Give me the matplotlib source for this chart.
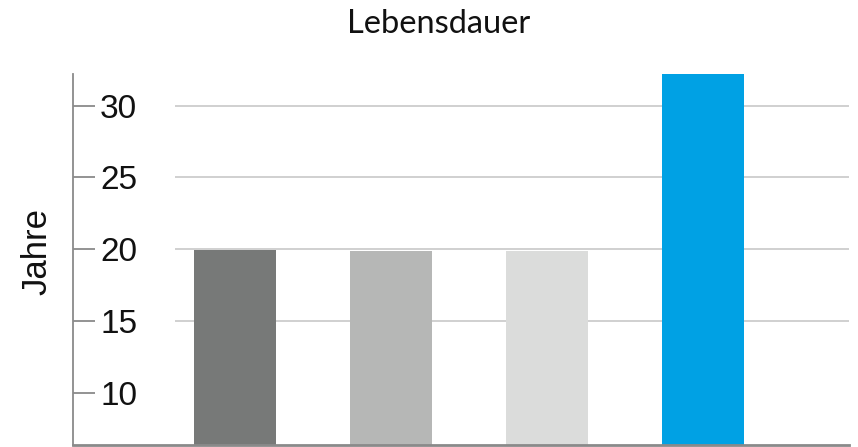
import matplotlib
matplotlib.use("Agg")
import matplotlib.pyplot as plt

# Lifetime values per product variant (years)
categories = ["A", "B", "C", "D"]
values = [19.95, 19.9, 19.9, 32.2]
bar_colors = ["#777978", "#b6b7b6", "#dbdcdb", "#00a1e4"]

y_ticks = [10, 15, 20, 25, 30]
grid_levels = [15, 20, 25, 30]
title = "Lebensdauer"
y_label = "Jahre"

fig = plt.figure(figsize=(8.58, 4.47), dpi=100)
W, H = 858, 447
ax = fig.add_axes([73 / W, (H - 445) / H, 776 / W, 371 / H])

x = list(range(len(categories)))
ax.set_xlim(-1.04, 3.94)
ax.set_ylim(6.35, 32.2)

# light horizontal guide lines, starting right of the axis area
ax.hlines(grid_levels, -0.385, 3.94, colors="#d0d0d0", linewidth=1.4, zorder=1)

ax.bar(x, values, width=0.526, color=bar_colors, zorder=2)

for side in ["top", "right"]:
    ax.spines[side].set_visible(False)
ax.spines["left"].set_color("#8a8a8a")
ax.spines["left"].set_linewidth(1.3)
ax.spines["bottom"].set_color("#8a8a8a")
ax.spines["bottom"].set_linewidth(2.0)

ax.set_xticks([])
ax.set_yticks(y_ticks)
ax.set_yticklabels([str(t) for t in y_ticks], fontfamily="Liberation Sans",
                   fontsize=24, color="#111111")
ax.tick_params(axis="y", direction="in", length=16, width=1.3,
               color="#8a8a8a", pad=-19.5)
for lbl in ax.get_yticklabels():
    lbl.set_horizontalalignment("left")

fig.text(36.5 / W, 1 - 251.5 / H, y_label, rotation=90, ha="center",
         va="center", fontfamily="Liberation Sans", fontsize=25,
         color="#111111")
fig.text(439 / W, 1 - 33 / H, title, ha="center", va="baseline",
         fontfamily="Lato", fontsize=23.5, color="#111111")

fig.savefig("out.png", dpi=100)
